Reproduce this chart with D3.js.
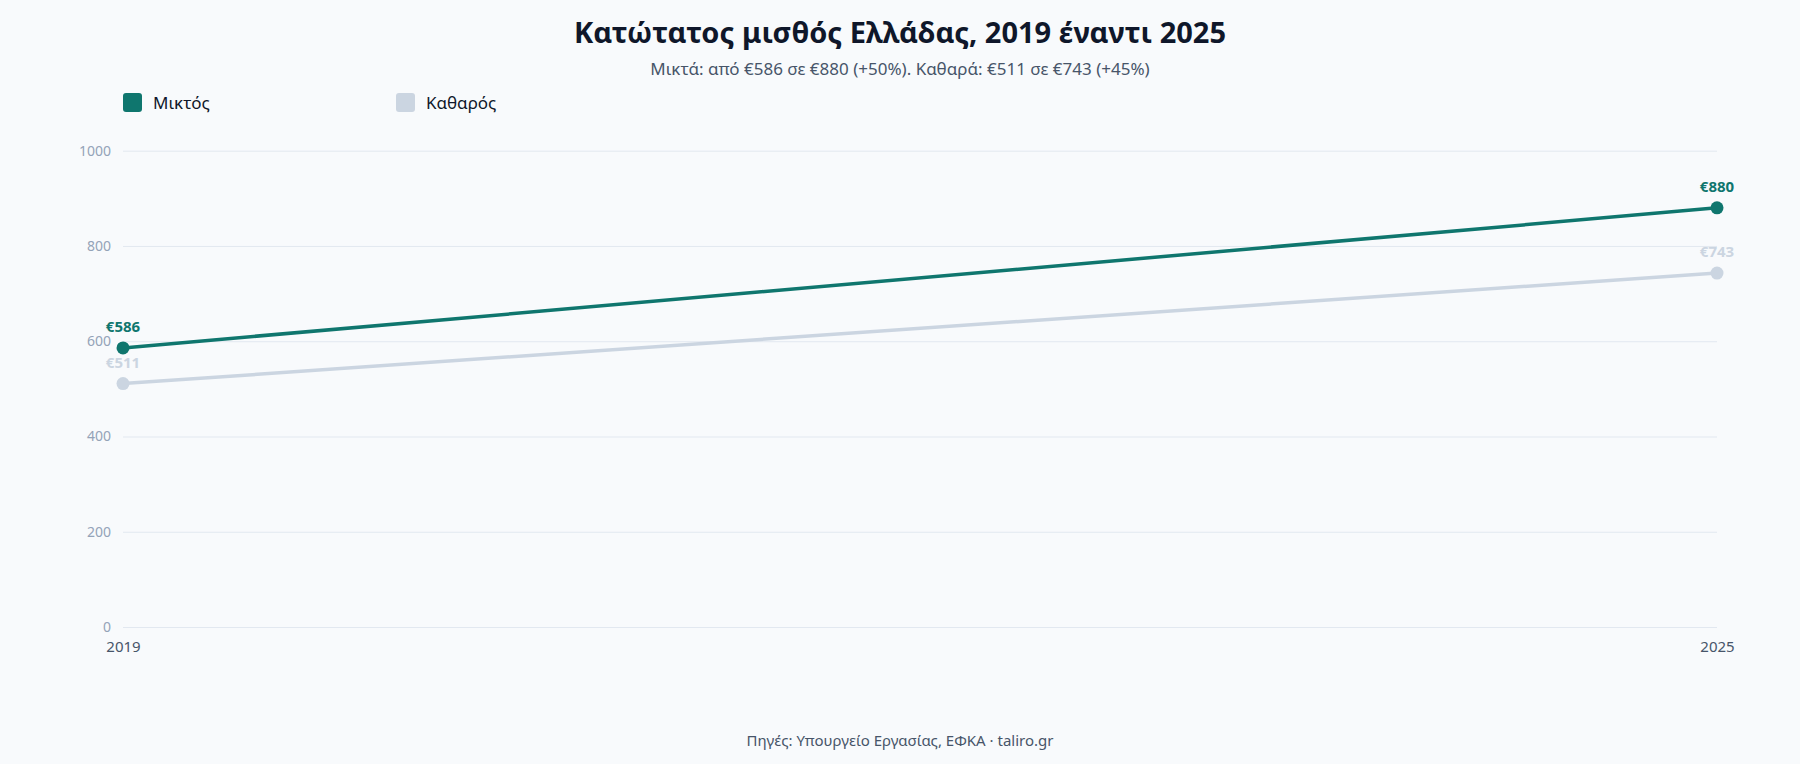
<!DOCTYPE html>
<html>
<head>
<meta charset="utf-8">
<script src="https://cdn.jsdelivr.net/npm/d3@7"></script>
<style>
  body { margin: 0; background: #f8fafc; font-family: "Noto Sans", "Open Sans", sans-serif; }
</style>
</head>
<body>
<script>
// data
var years = ["2019", "2025"];
var grossValues = [586, 880];
var netValues = [511, 743];
var seriesNames = ["Μικτός", "Καθαρός"];
var yTicks = [0, 200, 400, 600, 800, 1000];

var w = 1800, h = 764;
var green = "#0f766e", light = "#cbd5e1";

var svg = d3.select("body").append("svg")
	.attr("width", w)
	.attr("height", h)
	.style("background", "#f8fafc");

var x = d3.scalePoint()
	.domain(years)
	.range([123, 1717]);

var y = d3.scaleLinear()
	.domain([0, 1000])
	.range([627, 150.7]);

// title + subtitle
svg.append("text")
	.attr("x", w / 2).attr("y", 43)
	.attr("text-anchor", "middle")
	.style("font-size", "29px").style("font-weight", "700")
	.style("fill", "#0f172a")
	.text("Κατώτατος μισθός Ελλάδας, 2019 έναντι 2025");

svg.append("text")
	.attr("x", w / 2).attr("y", 75)
	.attr("text-anchor", "middle")
	.style("font-size", "17px")
	.style("fill", "#475569")
	.text("Μικτά: από €586 σε €880 (+50%). Καθαρά: €511 σε €743 (+45%)");

// legend
var legend = svg.selectAll(".legend")
	.data(seriesNames)
	.enter().append("g")
	.attr("class", "legend")
	.attr("transform", function(d, i){ return "translate(" + (123 + i * 273) + ",93)"; });
legend.append("rect")
	.attr("width", 19).attr("height", 19).attr("rx", 3)
	.style("fill", function(d, i){ return i === 0 ? green : light; });
legend.append("text")
	.attr("x", 30).attr("y", 16)
	.style("font-size", "17px")
	.style("fill", "#0f172a")
	.text(function(d){ return d; });

// grid + y axis
var yAxis = d3.axisLeft(y)
	.tickValues(yTicks)
	.tickFormat(d3.format("d"))
	.tickSize(-(1717 - 123))
	.tickPadding(12);
var gy = svg.append("g")
	.attr("transform", "translate(123,0)")
	.call(yAxis);
gy.select(".domain").remove();
gy.selectAll(".tick line").style("stroke", "#e2e8f0");
gy.selectAll(".tick text")
	.style("font-size", "14px")
	.style("fill", "#94a3b8")
	.style("font-family", "Noto Sans, Open Sans, sans-serif");

// x axis
var xAxis = d3.axisBottom(x).tickSize(0).tickPadding(14);
var gx = svg.append("g")
	.attr("transform", "translate(0,627)")
	.call(xAxis);
gx.select(".domain").remove();
gx.selectAll(".tick text")
	.style("font-size", "15px")
	.style("fill", "#475569")
	.style("font-family", "Noto Sans, Open Sans, sans-serif");

// lines
var series = [
	{ values: netValues, color: light },
	{ values: grossValues, color: green }
];
var line = d3.line()
	.x(function(d, i){ return x(years[i]); })
	.y(function(d){ return y(d); });

series.forEach(function(s){
	svg.append("path")
		.datum(s.values)
		.attr("d", line)
		.style("fill", "none")
		.style("stroke", s.color)
		.style("stroke-width", 3.5);
	svg.selectAll(null)
		.data(s.values)
		.enter().append("circle")
		.attr("cx", function(d, i){ return x(years[i]); })
		.attr("cy", function(d){ return y(d); })
		.attr("r", 6.5)
		.style("fill", s.color);
	svg.selectAll(null)
		.data(s.values)
		.enter().append("text")
		.attr("x", function(d, i){ return x(years[i]); })
		.attr("y", function(d){ return y(d) - 16; })
		.attr("text-anchor", "middle")
		.style("font-size", "15px").style("font-weight", "700")
		.style("fill", s.color)
		.text(function(d){ return "€" + d; });
});

// footer
svg.append("text")
	.attr("x", w / 2).attr("y", 746)
	.attr("text-anchor", "middle")
	.style("font-size", "15px")
	.style("fill", "#475569")
	.text("Πηγές: Υπουργείο Εργασίας, ΕΦΚΑ · taliro.gr");
</script>
</body>
</html>
